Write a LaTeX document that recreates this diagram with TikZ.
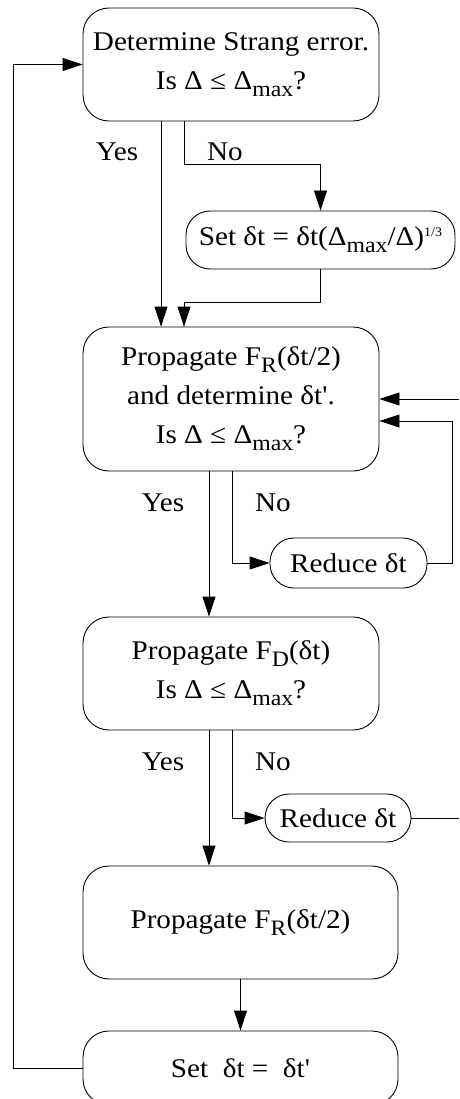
\documentclass[tikz,border=0pt]{standalone}
\usepackage{fontspec}
\setmainfont{Liberation Serif}[Ligatures=TeXOff, FakeStretch=1.08]
\usetikzlibrary{arrows.meta}
\newcommand{\lowsub}[1]{\raisebox{-7pt}{\fontsize{22}{22}\selectfont #1}}
\newcommand{\smallsup}[1]{\raisebox{9pt}{\fontsize{13}{13}\selectfont #1}}
\begin{document}
\begin{tikzpicture}[x=1pt, y=-1pt,
  every node/.style={font=\fontsize{27}{39}\selectfont},
  bigbox/.style={draw, rectangle, rounded corners=26pt, align=center, inner sep=2pt, line width=0.9pt},
  pill/.style={draw, rectangle, rounded corners=24pt, inner sep=2pt, line width=0.9pt},
  lbl/.style={inner sep=0pt},
  >={Triangle[length=20pt,width=13pt]}, line width=0.9pt]
\useasboundingbox (0,0) rectangle (459,1099);
\clip (0,0) rectangle (459,1099);
\node[bigbox, minimum width=296pt, minimum height=113pt] (strang) at (231,64.5) {Determine Strang error.\\Is Δ ≤ Δ\lowsub{max}?};
\node[pill, minimum width=269pt, minimum height=58pt] (setdt) at (320.5,240) {Set δt = δt(Δ\lowsub{max}/Δ)\smallsup{1/3}};
\node[bigbox, minimum width=296pt, minimum height=144pt] (react1) at (231,399) {Propagate F\lowsub{R}(δt/2)\\and determine δt'.\\Is Δ ≤ Δ\lowsub{max}?};
\node[pill, minimum width=157pt, minimum height=50pt] (reduce1) at (348.5,563) {Reduce δt};
\node[bigbox, minimum width=296pt, minimum height=113pt] (diff) at (231,673.5) {Propagate F\lowsub{D}(δt)\\Is Δ ≤ Δ\lowsub{max}?};
\node[pill, minimum width=146pt, minimum height=48pt] (reduce2) at (338,818) {Reduce δt};
\node[bigbox, minimum width=315pt, minimum height=113pt] (react2) at (240.5,922.5) {Propagate F\lowsub{R}(δt/2)};
\node[bigbox, minimum width=315pt, minimum height=74pt] (newdt) at (240.5,1068) {Set\ \ δt =\ \ δt'};
\coordinate (in1) at (459,399);
\coordinate (out1) at (459,818);
\node[lbl] (yes1) at (117,152) {Yes};
\node[lbl] (no1) at (225,152) {No};
\node[lbl] (yes2) at (163,503) {Yes};
\node[lbl] (no2) at (273,503) {No};
\node[lbl] (yes3) at (163,762) {Yes};
\node[lbl] (no3) at (273,762) {No};
\draw[->] ([xshift=-70pt]strang.south) -- ([xshift=-70pt]react1.north);
\draw[->] ([xshift=-47pt]strang.south) -- ++(0,43) -| (setdt.north);
\draw[->] (setdt.south) -- ++(0,33) -| ([xshift=-47pt]react1.north);
\draw[->] ([xshift=-22pt]react1.south) -- ([xshift=-22pt]diff.north);
\draw[->] ([xshift=1pt]react1.south) |- (reduce1.west);
\draw[->] (reduce1.east) -- ++(25,0) |- ([yshift=-22pt]react1.east);
\draw[->] (in1) -- (react1.east);
\draw[->] ([xshift=-22pt]diff.south) -- ([xshift=-31.5pt]react2.north);
\draw[->] ([xshift=1pt]diff.south) |- (reduce2.west);
\draw (reduce2.east) -- (out1);
\draw[->] (react2.south) -- (newdt.north);
\draw[->] (newdt.west) -- ++(-69,0) |- (strang.west);
\end{tikzpicture}
\end{document}
